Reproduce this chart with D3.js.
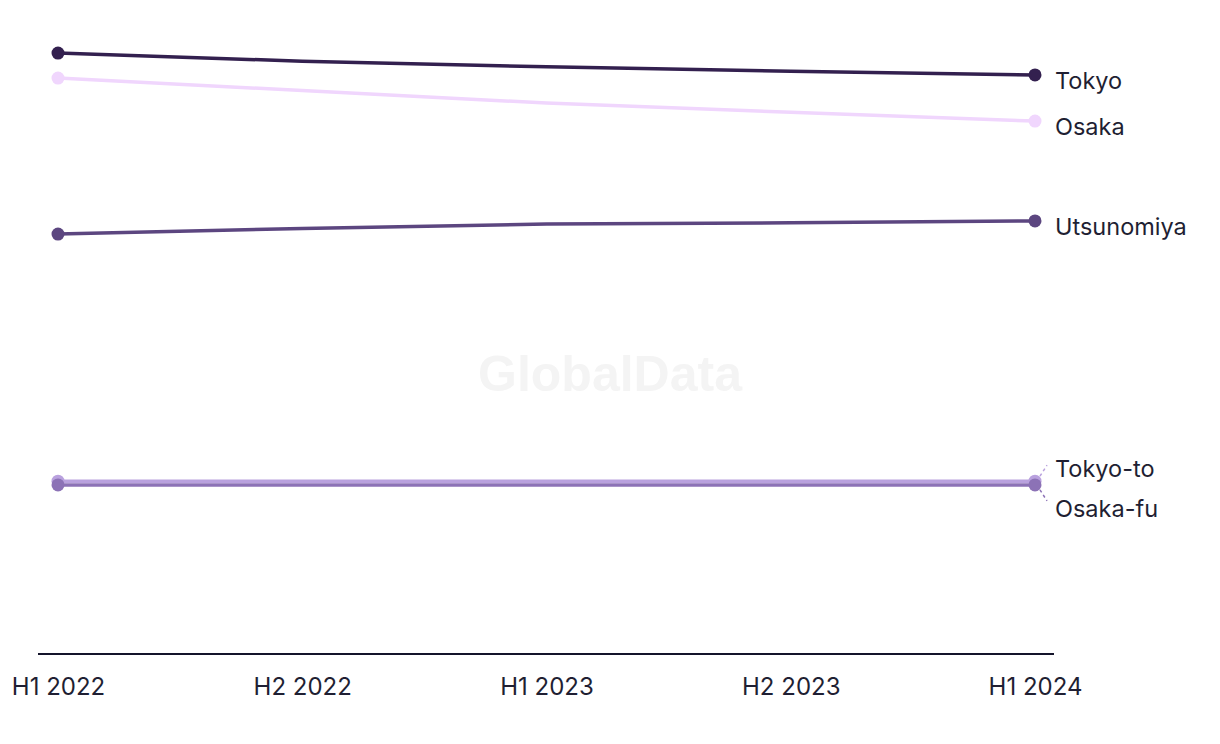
<!DOCTYPE html>
<html>
<head>
<meta charset="utf-8">
<script src="https://cdn.jsdelivr.net/npm/d3@7"></script>
<style>
  body { margin: 0; background: #fff; }
  svg { display: block; font-family: Inter, "Noto Sans", sans-serif; }
</style>
</head>
<body>
<svg id="chart" width="1220" height="744"></svg>
<script>
const periods = ["H1 2022", "H2 2022", "H1 2023", "H2 2023", "H1 2024"];
const seriesNames = ["Tokyo", "Osaka", "Utsunomiya", "Tokyo-to", "Osaka-fu"];
const tokyo      = [96.3, 95.0, 94.1, 93.4, 92.8];
const osaka      = [92.3, 90.3, 88.3, 86.8, 85.4];
const utsunomiya = [67.3, 68.2, 68.9, 69.1, 69.4];
const tokyoTo    = [27.7, 27.7, 27.7, 27.7, 27.7];
const osakaFu    = [27.1, 27.1, 27.1, 27.1, 27.1];
const colors = ["#33204f", "#f0d6fd", "#5c4680", "#b9a1de", "#8c72b6"];

const series = [
  { name: seriesNames[0], values: tokyo, color: colors[0], labelDy: 6, leader: false },
  { name: seriesNames[1], values: osaka, color: colors[1], labelDy: 6, leader: false },
  { name: seriesNames[2], values: utsunomiya, color: colors[2], labelDy: 6, leader: false },
  { name: seriesNames[3], values: tokyoTo, color: colors[3], labelDy: -12, leader: true },
  { name: seriesNames[4], values: osakaFu, color: colors[4], labelDy: 24, leader: true }
];

const svg = d3.select("#chart");

const x = d3.scalePoint().domain(periods).range([58, 1035]);
const y = d3.scaleLinear().domain([0, 100]).range([654, 30]);

// watermark
svg.append("text")
  .attr("x", 610).attr("y", 391)
  .attr("text-anchor", "middle")
  .attr("font-family", "Liberation Sans, Arial, sans-serif")
  .attr("font-weight", "bold")
  .attr("font-size", 50)
  .attr("fill", "#f4f4f4")
  .text("GlobalData");

// x axis
const axis = d3.axisBottom(x).tickSize(0).tickPadding(24);
const gx = svg.append("g").attr("transform", "translate(0,654)").call(axis);
gx.select(".domain").remove();
gx.append("line").attr("x1", 38).attr("x2", 1054).attr("y1", 0).attr("y2", 0)
  .attr("stroke", "#14142b").attr("stroke-width", 2);
gx.selectAll(".tick text")
  .attr("font-family", "Inter, 'Noto Sans', sans-serif")
  .attr("font-size", 24).attr("fill", "#1f1f33");

const line = d3.line().x((d, i) => x(periods[i])).y(d => y(d));

const drawOrder = [3, 4, 2, 1, 0];
drawOrder.forEach(k => {
  const s = series[k];
  const g = svg.append("g");
  g.append("path").datum(s.values)
    .attr("d", line)
    .attr("fill", "none")
    .attr("stroke", s.color)
    .attr("stroke-width", 3.5);
  g.selectAll("circle").data([s.values[0], s.values[s.values.length - 1]])
    .join("circle")
    .attr("cx", (d, i) => i === 0 ? x(periods[0]) : x(periods[periods.length - 1]))
    .attr("cy", d => y(d))
    .attr("r", 6.5)
    .attr("fill", s.color);
});

series.forEach(s => {
  const last = s.values[s.values.length - 1];
  const cy = y(last);
  const ly = cy + s.labelDy;
  if (s.leader) {
    const dir = s.labelDy < 0 ? -1 : 1;
    svg.append("line")
      .attr("x1", x(periods[periods.length - 1]) + 5).attr("y1", cy + dir * 5)
      .attr("x2", 1047).attr("y2", cy + dir * 16)
      .attr("stroke", s.color).attr("stroke-width", 1.5)
      .attr("stroke-dasharray", "3,3");
  }
  svg.append("text")
    .attr("x", 1055).attr("y", ly)
    .attr("dy", "0.35em")
    .attr("font-size", 23.5)
    .attr("fill", "#1f1f33")
    .text(s.name);
});
</script>
</body>
</html>
